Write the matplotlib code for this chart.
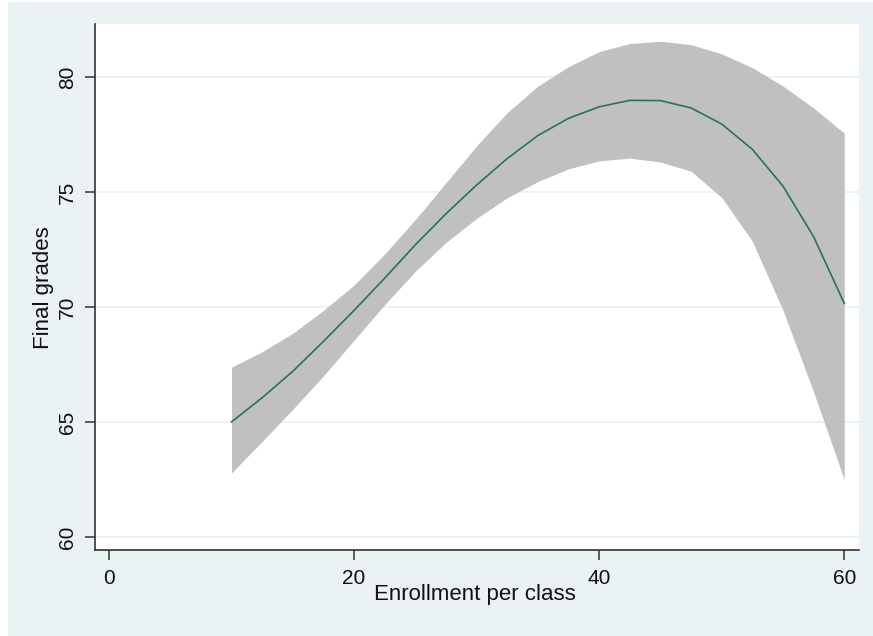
import numpy as np
import matplotlib.pyplot as plt
from matplotlib.patches import Rectangle

plt.rcParams["font.family"] = ["Liberation Sans", "DejaVu Sans"]

# fitted values and 95% band, read at regular enrollment values
enrollment = [10, 12.5, 15, 17.5, 20, 22.5, 25, 27.5, 30, 32.5, 35,
              37.5, 40, 42.5, 45, 47.5, 50, 52.5, 55, 57.5, 60]
fitted = [65.0, 66.05, 67.2, 68.5, 69.85, 71.25, 72.7, 74.05, 75.3, 76.45, 77.45,
          78.2, 78.7, 78.98, 78.97, 78.65, 77.95, 76.85, 75.25, 73.05, 70.15]
ci_upper = [67.38, 68.05, 68.85, 69.85, 70.95, 72.3, 73.8, 75.4, 77.0, 78.45, 79.6,
            80.45, 81.1, 81.45, 81.55, 81.4, 81.0, 80.4, 79.6, 78.65, 77.55]
ci_lower = [62.78, 64.15, 65.55, 67.0, 68.55, 70.1, 71.55, 72.8, 73.85, 74.75, 75.45,
            76.0, 76.35, 76.47, 76.3, 75.9, 74.75, 72.85, 69.85, 66.3, 62.48]

x_ticks = [0, 20, 40, 60]
y_ticks = [60, 65, 70, 75, 80]

bg = "#eaf2f3"
W, H = 873, 636

fig = plt.figure(figsize=(W / 100, H / 100), dpi=100, facecolor="white")
frame = Rectangle((8 / W, 0), 1 - 8 / W, 1 - 2 / H, transform=fig.transFigure,
                  facecolor=bg, edgecolor="none")
frame.set_zorder(-10)
fig.add_artist(frame)

ax = fig.add_axes([95 / W, (H - 550) / H, (859 - 95) / W, (550 - 24) / H])
ax.set_zorder(5)
ax.set_facecolor("white")

ax.fill_between(enrollment, ci_lower, ci_upper, color="#c0c0c0", linewidth=0, zorder=2)
ax.plot(enrollment, fitted, color="#2a6f68", linewidth=1.2, zorder=3)

ax.set_xlim(-1.14, 61.2)
ax.set_ylim(59.43, 82.3)
ax.set_xticks(x_ticks)
ax.set_yticks(y_ticks)
ax.yaxis.grid(True, color=bg, linewidth=1.3, zorder=1)
ax.set_axisbelow(True)

for side in ("top", "right"):
    ax.spines[side].set_visible(False)
for side in ("left", "bottom"):
    ax.spines[side].set_color("#333333")
    ax.spines[side].set_linewidth(1.2)

ax.tick_params(axis="both", direction="out", length=7, width=1.1,
               color="#333333", labelsize=15, labelcolor="#111111")
ax.tick_params(axis="x", pad=7)
ax.tick_params(axis="y", pad=6, labelrotation=90)
plt.setp(ax.get_yticklabels(), va="center")

ax.set_xlabel("Enrollment per class", fontsize=16, color="#111111")
ax.set_ylabel("Final grades", fontsize=16, color="#111111")
ax.xaxis.set_label_coords(0.497, -0.064)
ax.yaxis.set_label_coords(-0.054, 0.498)

fig.savefig("out.png", dpi=100, facecolor=fig.get_facecolor())
